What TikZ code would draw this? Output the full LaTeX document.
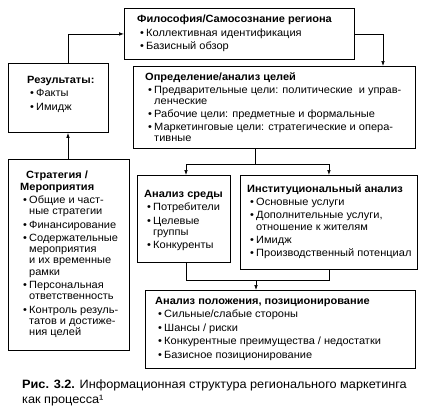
\documentclass[tikz,border=0pt]{standalone}
\usepackage{fontspec}
\setmainfont{Liberation Sans}[FakeStretch=1.05]
\usetikzlibrary{arrows.meta}
\newcommand\bu{\hspace*{3pt}\makebox[6pt][l]{•}}
\newcommand\cn{\hspace*{9pt}}
\tikzset{
  box/.style={draw, line width=0.9pt, anchor=north west, inner sep=0pt},
  txt/.style={anchor=north west, inner sep=0pt, align=left, font=\fontsize{10.5}{11.2}\selectfont},
  conn/.style={line width=0.7pt},
  arr/.style={conn, -{Latex[length=5pt,width=3.6pt]}},
}
\begin{document}
\begin{tikzpicture}[x=1pt,y=-1pt]
\fill[white] (0,0) rectangle (431,410);
\useasboundingbox (0,0) rectangle (431,410);
% boxes
\node[box, minimum width=230pt, minimum height=51pt] (phil) at (124,8) {};
\node[box, minimum width=100pt, minimum height=69pt] (res) at (8,63) {};
\node[box, minimum width=282pt, minimum height=82pt] (goals) at (133,66) {};
\node[box, minimum width=121pt, minimum height=191pt] (strat) at (8,159) {};
\node[box, minimum width=93pt, minimum height=87pt] (env) at (137,175) {};
\node[box, minimum width=177pt, minimum height=94pt] (inst) at (240,175) {};
\node[box, minimum width=270pt, minimum height=78pt] (pos) at (145,290) {};
% texts
\node[txt] (philt) at (137,15) {\textbf{Философия/Самосознание региона}\\[2.2pt]
\bu Коллективная идентификация\\[2.2pt]
\bu Базисный обзор};
\node[txt] (rest) at (27,76) {\textbf{Результаты:}\\[2.2pt]
\bu Факты\\[2.2pt]
\bu Имидж};
\node[txt] (goalst) at (145,72) {\textbf{Определение/анализ целей}\\[2.2pt]
\bu Предварительные цели: политические\ \ и управ-\\
\cn ленческие\\[1.8pt]
\bu Рабочие цели: предметные и формальные\\[1.8pt]
\bu Маркетинговые цели: стратегические и опера-\\
\cn тивные};
\node[txt] (stratt) at (20,171) {\hspace*{6pt}\textbf{Стратегия /}\\
\textbf{Мероприятия}\\[2.2pt]
\bu Общие и част-\\
\cn ные стратегии\\[2.2pt]
\bu Финансирование\\[2.2pt]
\bu Содержательные\\
\cn мероприятия\\
\cn и их временные\\
\cn рамки\\[2.2pt]
\bu Персональная\\
\cn ответственность\\[2.2pt]
\bu Контроль резуль-\\
\cn татов и достиже-\\
\cn ния целей};
\node[txt] (envt) at (144,190) {\textbf{Анализ среды}\\[2.2pt]
\bu Потребители\\[2.2pt]
\bu Целевые\\
\cn группы\\[2.2pt]
\bu Конкуренты};
\node[txt] (instt) at (247,184) {\textbf{Институциональный анализ}\\[2.2pt]
\bu Основные услуги\\[2.2pt]
\bu Дополнительные услуги,\\
\cn отношение к жителям\\[2.2pt]
\bu Имидж\\[2.2pt]
\bu Производственный потенциал};
\node[txt] (post) at (155,297) {\textbf{Анализ положения, позиционирование}\\[2.2pt]
\bu Сильные/слабые стороны\\[2.2pt]
\bu Шансы / риски\\[2.2pt]
\bu Конкурентные преимущества / недостатки\\[2.2pt]
\bu Базисное позиционирование};
\node[txt, font=\fontsize{12.1}{15}\selectfont] (cap) at (22,380) {\textbf{Рис. 3.2.} Информационная структура регионального маркетинга\\
как процесса¹};
% connector coordinates
\coordinate (cx1) at (68,33);
\coordinate (cx2) at (383,33);
\coordinate (cx3) at (255,164);
\coordinate (cxe) at (186,164);
\coordinate (cx5) at (256,280);
% connectors
\draw[arr] (cx1 |- res.north) |- (phil.west);
\draw[arr] (phil.east) -| (cx2 |- goals.north);
\draw[conn] (cx3 |- goals.south) -- (cx3);
\draw[arr] (cx3) -| (cxe |- env.north);
\draw[arr] (cx3) -| (inst.north);
\draw[conn] (cxe |- env.south) |- (cx5);
\draw[conn] (inst.south) |- (cx5);
\draw[arr] (cx5) -- (cx5 |- pos.north);
\draw[arr] (cx1 |- strat.north) -- (cx1 |- res.south);
\end{tikzpicture}
\end{document}
